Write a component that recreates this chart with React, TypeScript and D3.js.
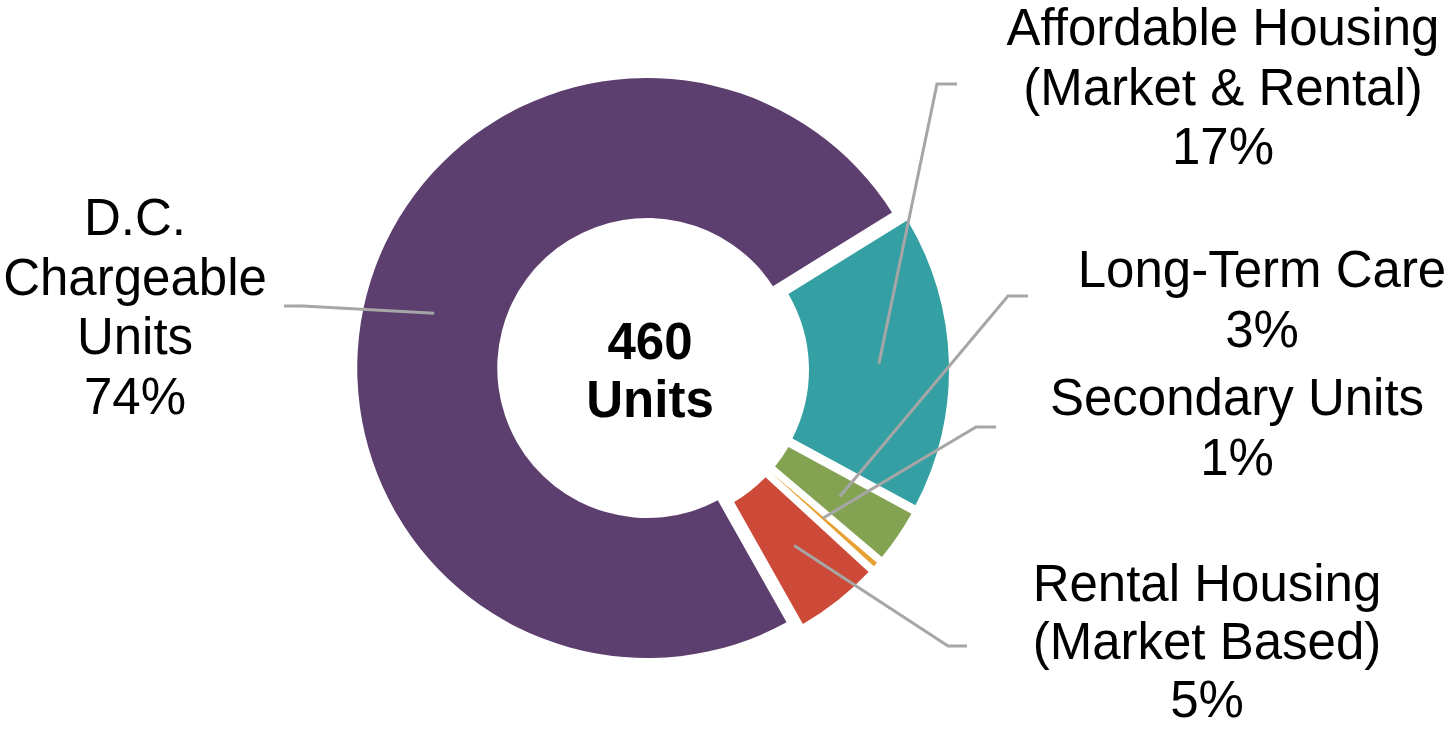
import React from "react";
import * as d3 from "d3";

// data, in the order the slices are drawn (clockwise)
const categories = [
  "D.C. Chargeable Units",
  "Affordable Housing (Market & Rental)",
  "Long-Term Care",
  "Secondary Units",
  "Rental Housing (Market Based)",
];
const units = [342, 77, 15, 3, 23];
const percentLabels = ["74%", "17%", "3%", "1%", "5%"];
const labelLines = [
  ["D.C.", "Chargeable", "Units"],
  ["Affordable Housing", "(Market & Rental)"],
  ["Long-Term Care"],
  ["Secondary Units"],
  ["Rental Housing", "(Market Based)"],
];
const totalLabel = ["460", "Units"];

const colors = ["#5C3F6E", "#35A0A4", "#83A353", "#E8A033", "#CC4A37"];

const width = 1448;
const height = 729;
const cx = 655;
const cy = 370;
const outerR = 290;
const innerR = 150;
const explode = [8, 4, 4, 4, 4];
const startDeg = 150.6;
const fontFamily = "'Liberation Sans', Arial, sans-serif";
const lineH = 59.5;

// label placement: text centre / first baseline, then the elbow of the leader line
const labelPos = [
  { x: 135, y: 235, line: [[284, 306], [303, 306]], lh: lineH },
  { x: 1223, y: 45, line: [[957, 84], [937, 84]], lh: lineH },
  { x: 1262, y: 287, line: [[1028, 296], [1008, 296]], lh: lineH },
  { x: 1237, y: 415, line: [[996, 427], [976, 427]], lh: lineH },
  { x: 1207, y: 601, line: [[967, 646], [948, 646]], lh: 58 },
];

const App = () => {
  const start = (startDeg * Math.PI) / 180;
  const pie = d3
    .pie<number>()
    .sort(null)
    .value((d) => d)
    .startAngle(start)
    .endAngle(start + 2 * Math.PI);
  const arcs = pie(units);

  const arc = d3
    .arc<d3.PieArcDatum<number>>()
    .innerRadius(innerR)
    .outerRadius(outerR)
    .padAngle(0.07)
    .padRadius(100);

  const line = d3.line();

  return (
    <svg
      width={width}
      height={height}
      style={{ position: "absolute", left: 0, top: 0, background: "#fff" }}
      fontFamily={fontFamily}
    >
      <g transform={`translate(${cx},${cy})`}>
        {arcs.map((a, i) => {
          const mid = (a.startAngle + a.endAngle) / 2;
          const dx = explode[i] * Math.sin(mid);
          const dy = -explode[i] * Math.cos(mid);
          return (
            <path
              key={categories[i]}
              d={arc(a) || ""}
              fill={colors[i]}
              transform={`translate(${dx},${dy})`}
            />
          );
        })}
      </g>

      {/* leader lines */}
      {arcs.map((a, i) => {
        const mid = (a.startAngle + a.endAngle) / 2;
        const [px, py] = arc.centroid(a);
        const end: [number, number] = [
          cx + px + explode[i] * Math.sin(mid),
          cy + py - explode[i] * Math.cos(mid),
        ];
        const pts = [...labelPos[i].line, end] as [number, number][];
        return (
          <path
            key={"l" + i}
            d={line(pts) || ""}
            fill="none"
            stroke="#A6A6A6"
            strokeWidth={3}
          />
        );
      })}

      {/* slice labels */}
      {labelLines.map((lines, i) => (
        <text
          key={"t" + i}
          x={labelPos[i].x}
          y={labelPos[i].y}
          fontSize={51}
          textAnchor="middle"
          fill="#000"
        >
          {[...lines, percentLabels[i]].map((s, j) => (
            <tspan key={j} x={labelPos[i].x} y={labelPos[i].y + j * labelPos[i].lh}>
              {s}
            </tspan>
          ))}
        </text>
      ))}

      {/* centre total */}
      <text x={650} y={359} fontSize={51} fontWeight="bold" textAnchor="middle">
        {totalLabel[0]}
      </text>
      <text x={650} y={417} fontSize={51} fontWeight="bold" textAnchor="middle">
        {totalLabel[1]}
      </text>
    </svg>
  );
};

export default App;
